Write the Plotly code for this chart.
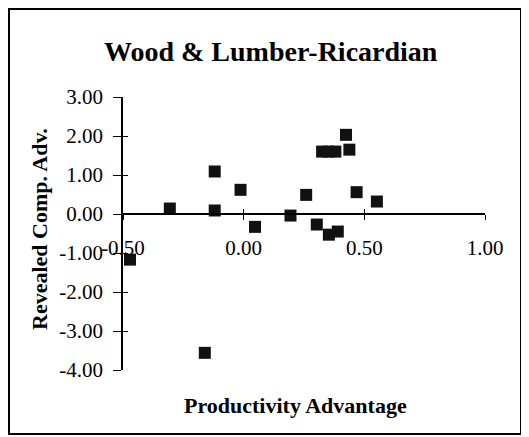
import plotly.graph_objects as go

# Data
prod_adv = [-0.471, -0.306, -0.12, -0.12, -0.013, 0.047, 0.194, 0.259, 0.303,
            0.325, 0.352, 0.38, 0.353, 0.39, 0.424, 0.438, 0.468, 0.552, -0.161]
rca = [-1.17, 0.14, 1.09, 0.09, 0.62, -0.33, -0.04, 0.49, -0.27,
       1.60, 1.60, 1.60, -0.53, -0.45, 2.03, 1.65, 0.56, 0.32, -3.56]

x_ticks = [-0.5, 0.0, 0.5, 1.0]
x_ticktext = ["-0.50", "0.00", "0.50", "1.00"]
y_ticks = [3, 2, 1, 0, -1, -2, -3, -4]
y_ticktext = ["3.00", "2.00", "1.00", "0.00", "-1.00", "-2.00", "-3.00", "-4.00"]

title = "Wood & Lumber-Ricardian"
x_title = "Productivity Advantage"
y_title = "Revealed Comp. Adv."

FONT = "Liberation Serif, Times New Roman, serif"
W, H = 529, 437
OFF = 8  # page body margin
# target pixel positions (reference image coords)
PX_L, PX_R, PX_T, PX_B = 123, 485, 97, 370
L = PX_L - OFF
T = PX_T - OFF
R = W - (PX_R - OFF)
B = H - (PX_B - OFF)
PW = PX_R - PX_L
PH = PX_B - PX_T


def px(xp):
    return (xp - PX_L) / PW


def py(yp):
    return (PX_B - yp) / PH


fig = go.Figure()
fig.add_trace(go.Scatter(
    x=prod_adv, y=rca, mode="markers",
    marker=dict(symbol="square", size=12, color="#111111",
                line=dict(width=0)),
    showlegend=False, hoverinfo="x+y"))
# invisible trace for the overlay axes (inside ticks)
fig.add_trace(go.Scatter(x=[x_ticks[0]], y=[y_ticks[-1]], xaxis="x2", yaxis="y2",
                         mode="markers", marker=dict(opacity=0), showlegend=False,
                         hoverinfo="skip"))

common = dict(showgrid=False, zeroline=False, showline=True, linecolor="black",
              linewidth=1.5, tickcolor="black", tickwidth=1.3,
              tickfont=dict(family=FONT, size=21, color="black"))

y0_pos = (0 - y_ticks[-1]) / (y_ticks[0] - y_ticks[-1])

fig.update_layout(
    width=W, height=H,
    margin=dict(l=L, r=R, t=T, b=B),
    paper_bgcolor="white", plot_bgcolor="white",
    xaxis=dict(range=[x_ticks[0], x_ticks[-1]], anchor="free", position=y0_pos,
               tickvals=x_ticks, ticktext=x_ticktext, ticks="outside", ticklen=5,
               ticklabelstandoff=10, **common),
    yaxis=dict(range=[y_ticks[-1], y_ticks[0]], anchor="x",
               tickvals=y_ticks, ticktext=y_ticktext, ticks="outside", ticklen=8,
               ticklabelstandoff=6, **common),
    xaxis2=dict(range=[x_ticks[0], x_ticks[-1]], overlaying="x", anchor="free",
                position=y0_pos, tickvals=x_ticks, ticks="inside", ticklen=5,
                showticklabels=False, showgrid=False, zeroline=False, showline=False,
                tickcolor="black", tickwidth=1.3),
    yaxis2=dict(range=[y_ticks[-1], y_ticks[0]], overlaying="y", anchor="x",
                tickvals=y_ticks, ticks="inside", ticklen=5, showticklabels=False,
                showgrid=False, zeroline=False, showline=False,
                tickcolor="black", tickwidth=1.3),
    annotations=[
        dict(text="<b>" + title + "</b>", xref="paper", yref="paper",
             x=px(271), y=py(52),
             xanchor="center", yanchor="middle", showarrow=False,
             font=dict(family=FONT, size=28, color="black")),
        dict(text="<b>" + y_title + "</b>", xref="paper", yref="paper",
             x=px(40), y=py(229),
             xanchor="center", yanchor="middle", showarrow=False, textangle=-90,
             font=dict(family=FONT, size=22, color="black")),
        dict(text="<b>" + x_title + "</b>", xref="paper", yref="paper",
             x=px(295), y=py(405),
             xanchor="center", yanchor="middle", showarrow=False,
             font=dict(family=FONT, size=22, color="black")),
    ],
    shapes=[dict(type="rect", xref="paper", yref="paper",
                 x0=px(OFF + 1), x1=px(521),
                 y0=py(434), y1=py(OFF + 1),
                 line=dict(color="black", width=2), fillcolor="rgba(0,0,0,0)")],
)

fig.write_html("out.html")
